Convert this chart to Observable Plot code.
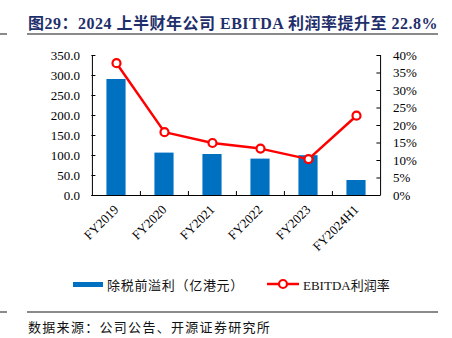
<!DOCTYPE html>
<html>
<head>
<meta charset="utf-8">
<script src="https://cdn.jsdelivr.net/npm/d3@7"></script>
<script src="https://cdn.jsdelivr.net/npm/@observablehq/plot@0.6"></script>
<style>
  html, body { margin: 0; padding: 0; background: #fff; }
  #wrap { position: relative; width: 452px; height: 338px; overflow: hidden; background: #fff; }
  .abs { position: absolute; }
  #title { left: 28px; top: 10px; font-family: "Liberation Serif", "Noto Sans CJK SC", serif; font-weight: bold; font-size: 16px; color: #1F2F6B; letter-spacing: 0.5px; white-space: nowrap; }
  .rule { height: 1.5px; background: #8a8a8a; }
  .cjk { font-family: "Liberation Serif", "Noto Sans CJK SC", serif; color: #111; white-space: nowrap; }
  #chart { left: 0; top: 40px; }
</style>
</head>
<body>
<div id="wrap">
  <div id="title" class="abs">图29：2024 上半财年公司 EBITDA 利润率提升至 22.8%</div>
  <div class="abs rule" style="left:0;top:33px;width:7px;"></div>
  <div class="abs rule" style="left:27px;top:33px;width:411px;"></div>
  <div id="chart" class="abs"></div>
  <div class="abs" style="left:73px;top:282px;width:30px;height:5px;background:#0070C0;"></div>
  <div class="abs cjk" style="left:107px;top:275px;font-size:13px;letter-spacing:0.7px;">除税前溢利（亿港元）</div>
  <svg class="abs" style="left:266px;top:277px;" width="34" height="14">
    <line x1="1" y1="7" x2="33" y2="7" stroke="#FF0000" stroke-width="2.5"></line>
    <circle cx="17" cy="7" r="4" fill="#fff" stroke="#FF0000" stroke-width="2.2"></circle>
  </svg>
  <div class="abs cjk" style="left:303px;top:275px;font-size:13px;">EBITDA利润率</div>
  <div class="abs rule" style="left:0;top:311px;width:7px;"></div>
  <div class="abs rule" style="left:27px;top:311px;width:411px;"></div>
  <div class="abs cjk" style="left:28px;top:317px;font-size:13px;letter-spacing:1.3px;">数据来源：公司公告、开源证券研究所</div>
</div>
<script>
const categories = ["FY2019", "FY2020", "FY2021", "FY2022", "FY2023", "FY2024H1"];
const profit = [290, 106, 102.5, 91, 99.5, 37.5];           // 除税前溢利（亿港元）
const marginPct = [37.8, 18.1, 15.0, 13.4, 10.4, 22.8];      // EBITDA利润率 (%)
const leftTicks = [0, 50, 100, 150, 200, 250, 300, 350];
const rightTicks = [0, 5, 10, 15, 20, 25, 30, 35, 40];

const yMax = 350, pMax = 40;
const k = yMax / pMax;
const rows = categories.map((c, i) => ({cat: c, profit: profit[i], m: marginPct[i] * k}));

const W = 452, H = 230, ML = 91.4, MR = 71.6, MT = 15, MB = 75;
const plotW = W - ML - MR, plotH = H - MT - MB;
const bw = plotW / categories.length;
const barW = 19.3;
const ins = (bw - barW) / 2;

const chart = Plot.plot({
  width: W, height: H,
  marginTop: MT, marginBottom: MB, marginLeft: ML, marginRight: MR,
  style: {fontFamily: "'Liberation Serif', 'Times New Roman', serif", fontSize: "13px", color: "#000", background: "transparent"},
  x: {type: "band", domain: categories, padding: 0, label: null},
  y: {domain: [0, yMax], label: null},
  marks: [
    Plot.barY(rows, {x: "cat", y: "profit", fill: "#0070C0", insetLeft: ins, insetRight: ins}),
    // axis lines
    Plot.ruleY([0], {stroke: "#000", strokeWidth: 1}),
    Plot.ruleX([categories[0]], {dx: -bw / 2, stroke: "#000"}),
    Plot.ruleX([categories[categories.length - 1]], {dx: bw / 2, stroke: "#000"}),
    // inward tick marks
    Plot.tickY(leftTicks, {y: d => d, insetRight: plotW - 4, stroke: "#000"}),
    Plot.tickY(rightTicks.map(t => t * k), {y: d => d, insetLeft: plotW - 4, stroke: "#000"}),
    Plot.tickX(categories.slice(1), {x: d => d, dx: -bw / 2, insetTop: plotH - 4, stroke: "#000"}),
    // tick labels
    Plot.axisY(leftTicks, {anchor: "left", tickSize: 0, tickPadding: 12, label: null, tickFormat: d => d.toFixed(1)}),
    Plot.axisY(rightTicks.map(t => t * k), {anchor: "right", tickSize: 0, tickPadding: 12, label: null, tickFormat: d => Math.round(d / k) + "%", textAnchor: "start"}),
    Plot.axisX(categories, {anchor: "bottom", tickSize: 0, tickPadding: 12, label: null, tickRotate: -45}),
    // margin line
    Plot.line(rows, {x: "cat", y: "m", stroke: "#FF0000", strokeWidth: 2.5}),
    Plot.dot(rows, {x: "cat", y: "m", r: 4, fill: "#fff", stroke: "#FF0000", strokeWidth: 2.2})
  ]
});
chart.style.display = "block";
document.getElementById("chart").appendChild(chart);
</script>
</body>
</html>
